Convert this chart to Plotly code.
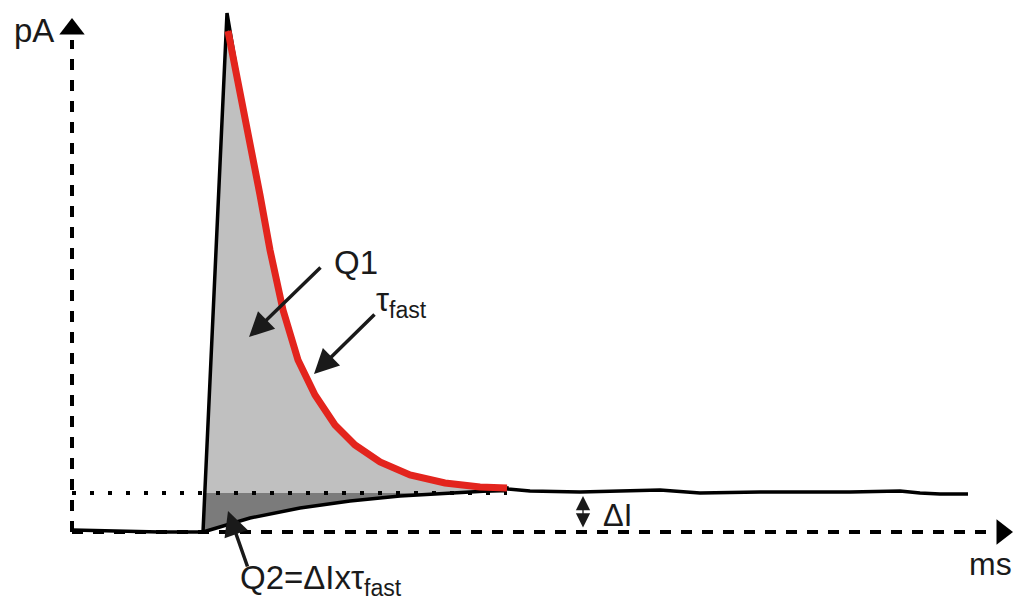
import plotly.graph_objects as go

# Schematic trace values (x: time units, y: current units, y grows downward)
base_x = [72, 120, 160, 203]
base_y = [530, 531, 532, 532]

rise_x = [203, 227]
rise_y = [532, 13]

red_x = [228, 240, 252, 260, 270, 283, 298, 315, 335, 355, 380, 410, 445, 480, 507]
red_y = [31, 90, 150, 195, 250, 310, 360, 395, 425, 445, 462, 475, 483, 487, 488]

tail_x = [507, 530, 580, 640, 660, 700, 760, 850, 900, 920, 940, 968]
tail_y = [489, 491, 492, 491, 490, 493, 492, 492, 491, 493, 494, 494]

slow_x = [203, 220, 250, 300, 350, 400, 450, 505]
slow_y = [532, 527, 518, 508, 501, 496, 493, 490]

steady_level = 493   # dotted line level
zero_level = 532     # baseline (x axis)
axis_x0 = 72
axis_x_end = 992
axis_y_top = 40

FONT = "Liberation Sans, Arial, sans-serif"
PAGE_OFFSET = 8  # page body margin compensation
FIG_W = 1023 - PAGE_OFFSET
FIG_H = 610 - 2 * PAGE_OFFSET

fig = go.Figure()

# light gray area Q1 (above the steady level)
cross_x = rise_x[0] + (rise_x[1] - rise_x[0]) * (rise_y[0] - steady_level) / (rise_y[0] - rise_y[1])
q1_x = [cross_x, rise_x[1]] + red_x + [red_x[-1], cross_x]
q1_y = [steady_level, rise_y[1]] + red_y + [steady_level, steady_level]
fig.add_trace(go.Scatter(x=q1_x, y=q1_y, fill="toself", fillcolor="#c0c0c0",
                         line=dict(width=0), mode="lines", hoverinfo="skip"))

# dark gray area Q2 (between steady level and slow curve)
q2_x = slow_x + [slow_x[-1], cross_x]
q2_y = slow_y + [steady_level, steady_level]
fig.add_trace(go.Scatter(x=q2_x, y=q2_y, fill="toself", fillcolor="#7b7b7b",
                         line=dict(width=0), mode="lines", hoverinfo="skip"))

# axes (dashed)
fig.add_trace(go.Scatter(x=[axis_x0, axis_x_end], y=[zero_level, zero_level], mode="lines",
                         line=dict(color="black", width=4, dash="11px,10px"), hoverinfo="skip"))
fig.add_trace(go.Scatter(x=[axis_x0, axis_x0], y=[zero_level, axis_y_top], mode="lines",
                         line=dict(color="black", width=4, dash="11px,10px"), hoverinfo="skip"))
# dotted steady level
fig.add_trace(go.Scatter(x=[axis_x0, red_x[-1]], y=[steady_level, steady_level], mode="lines",
                         line=dict(color="black", width=4, dash="4px,14px"), hoverinfo="skip"))

# slow curve
fig.add_trace(go.Scatter(x=slow_x, y=slow_y, mode="lines",
                         line=dict(color="black", width=3.5), hoverinfo="skip"))
# black trace
fig.add_trace(go.Scatter(x=base_x + rise_x + red_x[1:] + tail_x, y=base_y + rise_y + red_y[1:] + tail_y,
                         mode="lines", line=dict(color="black", width=3.5), hoverinfo="skip"))
# red fit
fig.add_trace(go.Scatter(x=red_x, y=red_y, mode="lines",
                         line=dict(color="#e3241d", width=7), hoverinfo="skip"))

# axis arrowheads
fig.add_trace(go.Scatter(x=[1002], y=[zero_level], mode="markers",
                         marker=dict(symbol="triangle-right", size=22, color="black"), hoverinfo="skip"))
fig.add_trace(go.Scatter(x=[axis_x0], y=[29], mode="markers",
                         marker=dict(symbol="triangle-up", size=22, color="black"), hoverinfo="skip"))

ann = []
def text(x, y, s, size=33, xanchor="center"):
    ann.append(dict(x=x, y=y, xref="x", yref="y", text=s, showarrow=False,
                    font=dict(family=FONT, size=size, color="#1a1a1a"), xanchor=xanchor, yanchor="middle"))

def arrow(x, y, ax, ay):
    ann.append(dict(x=x, y=y, ax=ax, ay=ay, xref="x", yref="y", axref="x", ayref="y", text="",
                    showarrow=True, arrowhead=2, arrowsize=1.4, arrowwidth=3.5, arrowcolor="#1a1a1a"))

text(34, 30, "pA")
text(990, 564, "ms", size=32)
text(356, 262, "Q1")
text(374, 302, "τ<sub>fast</sub>", xanchor="left")
text(238, 580, "Q2=ΔIxτ<sub>fast</sub>", xanchor="left")
text(601, 515, "ΔI", size=31, xanchor="left")

arrow(249, 337, 322, 266)
arrow(314, 374, 376, 313)
arrow(228, 511, 248, 568)
ann.append(dict(x=583, y=496, ax=583, ay=529, xref="x", yref="y", axref="x", ayref="y", text="",
                showarrow=True, arrowhead=2, startarrowhead=2, arrowside="end+start",
                arrowsize=2.2, startarrowsize=2.2, arrowwidth=1.3, arrowcolor="#1a1a1a"))

fig.update_layout(
    width=FIG_W, height=FIG_H, margin=dict(l=0, r=0, t=0, b=0),
    paper_bgcolor="white", plot_bgcolor="white", showlegend=False,
    xaxis=dict(range=[PAGE_OFFSET, PAGE_OFFSET + FIG_W], visible=False, fixedrange=True),
    yaxis=dict(range=[PAGE_OFFSET + FIG_H, PAGE_OFFSET], visible=False, fixedrange=True),
    annotations=ann,
)

fig.write_html("out.html")
